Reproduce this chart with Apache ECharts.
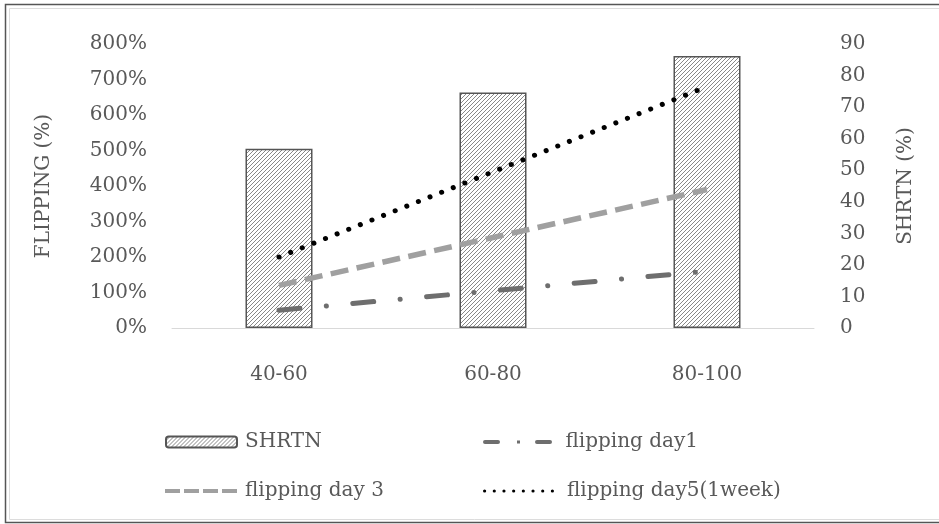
<!DOCTYPE html>
<html>
<head>
<meta charset="utf-8">
<script src="https://cdn.jsdelivr.net/npm/echarts@6/dist/echarts.min.js"></script>
<style>
  html, body { margin: 0; padding: 0; background: #fff; }
  #chart { width: 939px; height: 524px; }
</style>
</head>
<body>
<div id="chart"></div>
<script>
const categories = ['40-60', '60-80', '80-100'];
const shrtn = [56.8, 74.6, 86.2];
const flipDay1 = [50, 105, 160];
const flipDay3 = [120, 255, 390];
const flipDay5 = [200, 440, 680];
const leftTicks = { min: 0, max: 800, interval: 100 };
const rightTicks = { min: 0, max: 90, interval: 10 };

const FONT = 'DejaVu Serif';
const TXT = '#595959';

// hatch pattern
const pat = document.createElement('canvas');
pat.width = 4; pat.height = 4;
const pc = pat.getContext('2d');
pc.fillStyle = '#fff';
pc.fillRect(0, 0, 4, 4);
pc.strokeStyle = '#6a6a6a';
pc.lineWidth = 0.8;
pc.beginPath();
pc.moveTo(0, 4); pc.lineTo(4, 0);
pc.moveTo(-1, 1); pc.lineTo(1, -1);
pc.moveTo(3, 5); pc.lineTo(5, 3);
pc.stroke();

function dotsPath(n, step, r) {
  let p = '';
  for (let i = 0; i < n; i++) {
    const x = i * step;
    p += 'M' + x + ',' + r + 'a' + r + ',' + r + ' 0 1,0 ' + (2 * r) + ',0a' + r + ',' + r + ' 0 1,0 ' + (-2 * r) + ',0z';
  }
  return 'path://' + p;
}
const iconDay1 = 'path://M2,0h13a2,2 0 0,1 0,4h-13a2,2 0 0,1 0,-4z M34,0.6h3v2.8h-3z M54,0h13a2,2 0 0,1 0,4h-13a2,2 0 0,1 0,-4z';
const iconDay3 = 'path://M0,0h15v4h-15z M19,0h15v4h-15z M38,0h15v4h-15z M57,0h15v4h-15z';
const iconDay5 = dotsPath(8, 9.7, 1.6);

const chart = echarts.init(document.getElementById('chart'), null, { renderer: 'canvas' });

function leg(name, icon, left, top, w, h, pad) {
  const item = icon ? { name: name, icon: icon } : { name: name };
  return {
    data: [item], left: left, top: top, orient: 'horizontal',
    itemWidth: w, itemHeight: h, padding: 0,
    textStyle: { fontFamily: FONT, fontSize: 20, color: TXT, padding: [0, 0, 0, pad] },
    selectedMode: false
  };
}

chart.setOption({
  animation: false,
  backgroundColor: '#fff',
  graphic: [
    { type: 'rect', shape: { x: 5.5, y: 4.5, width: 940, height: 518 }, style: { fill: 'none', stroke: '#555', lineWidth: 1.5 }, silent: true },
    { type: 'rect', shape: { x: 9.5, y: 8.5, width: 940, height: 511 }, style: { fill: 'none', stroke: '#dcdcdc', lineWidth: 1 }, silent: true }
  ],
  grid: { left: 172, right: 125, top: 44, bottom: 196 },
  legend: [
    leg('SHRTN', null, 165, 432, 71, 11, 3),
    leg('flipping day1', iconDay1, 483, 432, 70, 4, 8),
    leg('flipping day 3', iconDay3, 165, 481, 72, 4, 3),
    leg('flipping day5(1week)', iconDay5, 483, 481, 71, 3.2, 8)
  ],
  xAxis: {
    type: 'category', data: categories,
    axisLine: { lineStyle: { color: '#d9d9d9', width: 1 } },
    axisTick: { show: false },
    axisLabel: { fontFamily: FONT, fontSize: 20, color: TXT, margin: 37 }
  },
  yAxis: [
    {
      type: 'value', min: leftTicks.min, max: leftTicks.max, interval: leftTicks.interval,
      name: 'FLIPPING (%)', nameLocation: 'middle', nameGap: 118, nameRotate: 90,
      nameTextStyle: { fontFamily: FONT, fontSize: 20, color: TXT },
      axisLine: { show: false }, axisTick: { show: false }, splitLine: { show: false },
      axisLabel: { formatter: '{value}%', fontFamily: FONT, fontSize: 20, color: TXT, margin: 25 }
    },
    {
      type: 'value', min: rightTicks.min, max: rightTicks.max, interval: rightTicks.interval,
      name: 'SHRTN (%)', nameLocation: 'middle', nameGap: 82, nameRotate: 90,
      nameTextStyle: { fontFamily: FONT, fontSize: 20, color: TXT },
      axisLine: { show: false }, axisTick: { show: false }, splitLine: { show: false },
      axisLabel: { fontFamily: FONT, fontSize: 20, color: TXT, margin: 26 }
    }
  ],
  series: [
    {
      name: 'SHRTN', type: 'bar', yAxisIndex: 1, data: shrtn, barWidth: 67, z: 1,
      itemStyle: { color: { image: pat, repeat: 'repeat' }, borderColor: '#555', borderWidth: 1.5 }
    },
    {
      name: 'flipping day1', type: 'line', yAxisIndex: 0, data: flipDay1, symbol: 'none', z: 3,
      itemStyle: { color: '#6e6e6e' },
      lineStyle: { color: '#6e6e6e', width: 5, type: [21, 26.5, 0.1, 26.5], cap: 'round' }
    },
    {
      name: 'flipping day 3', type: 'line', yAxisIndex: 0, data: flipDay3, symbol: 'none', z: 3,
      itemStyle: { color: '#a0a0a0' },
      lineStyle: { color: '#a0a0a0', width: 5.5, type: [18, 8.5] }
    },
    {
      name: 'flipping day5(1week)', type: 'line', yAxisIndex: 0, data: flipDay5, symbol: 'none', z: 4,
      itemStyle: { color: '#000' },
      lineStyle: { color: '#000', width: 5, type: [0.1, 12.4], cap: 'round' }
    }
  ]
});
</script>
</body>
</html>
